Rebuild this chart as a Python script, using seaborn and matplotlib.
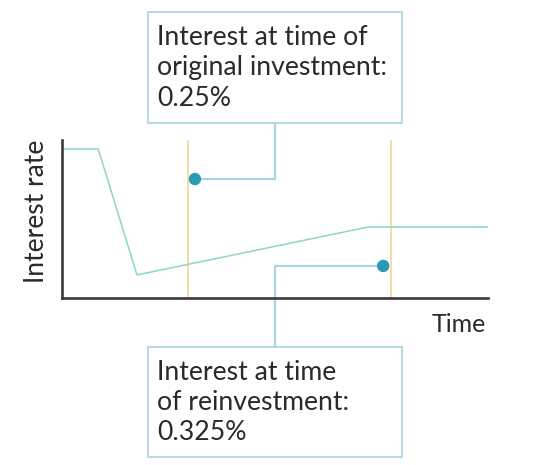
import matplotlib
matplotlib.use("Agg")
import matplotlib.pyplot as plt
import seaborn as sns
import pandas as pd
from matplotlib.patches import Rectangle

# ---- data (schematic units) ----
time_pts = [0, 8.5, 17.6, 71.8, 100]
rate_pts = [94.3, 94.3, 14.6, 44.9, 44.9]
event_times = [29.6, 77.2]            # original investment, reinvestment
dot_times = [31.2, 75.4]
dot_rates = [75.3, 20.3]
labels = ["Interest at time of\noriginal investment:\n0.25%",
          "Interest at time\nof reinvestment:\n0.325%"]
x_label = "Time"
y_label = "Interest rate"

sns.set_style("white")
plt.rcParams["font.family"] = ["Lato", "DejaVu Sans"]

W, H = 545, 465
fig = plt.figure(figsize=(W / 100, H / 100), dpi=100)
L, R, B, T = 62, 488, 298, 140
ax = fig.add_axes([L / W, (H - B) / H, (R - L) / W, (B - T) / H])
ax.set_xlim(0, 100)
ax.set_ylim(0, 100)

def px_to_data(px, py):
    return (px - L) / (R - L) * 100, (B - py) / (B - T) * 100

df = pd.DataFrame({"t": time_pts, "r": rate_pts})
sns.lineplot(data=df, x="t", y="r", ax=ax, color="#8fd5c9", linewidth=1.1, sort=False)

for et in event_times:
    ax.axvline(et, color="#f3d58a", linewidth=1.1, zorder=1)

conn = "#a9d4df"
cx, _ = px_to_data(275, 0)
_, top_box_bottom = px_to_data(0, 123)
_, bot_box_top = px_to_data(0, 347)
ax.plot([dot_times[0], cx, cx], [dot_rates[0], dot_rates[0], top_box_bottom],
        color=conn, linewidth=1.6, clip_on=False, zorder=2)
ax.plot([dot_times[1], cx, cx], [dot_rates[1], dot_rates[1], bot_box_top],
        color=conn, linewidth=1.6, clip_on=False, zorder=2)

sns.scatterplot(x=dot_times, y=dot_rates, ax=ax, color="#2b9ab6", s=80,
                edgecolor="none", zorder=5, clip_on=False)

ax.set_xticks([])
ax.set_yticks([])
ax.set_xlabel("")
ax.set_ylabel("")
for s in ["top", "right"]:
    ax.spines[s].set_visible(False)
for s in ["left", "bottom"]:
    ax.spines[s].set_color("#3a3a3a")
    ax.spines[s].set_linewidth(1.9)

# boxes
def fig_rect(x0, y0, x1, y1):
    return Rectangle((x0 / W, 1 - y1 / H), (x1 - x0) / W, (y1 - y0) / H,
                     transform=fig.transFigure, fill=False,
                     edgecolor=conn, linewidth=1.2)

fig.patches.append(fig_rect(148, 12, 402, 123))
fig.patches.append(fig_rect(148, 347, 402, 457))

# va="baseline" anchors the last line's baseline
fig.text(157 / W, 1 - 105.5 / H, labels[0], ha="left", va="baseline",
         fontsize=19.2, color="#2a2a2a", linespacing=1.26)
fig.text(157 / W, 1 - 440 / H, labels[1], ha="left", va="baseline",
         fontsize=19.2, color="#2a2a2a", linespacing=1.26)

fig.text(486 / W, 1 - 332 / H, x_label, ha="right", va="baseline",
         fontsize=18, color="#2a2a2a")
fig.text(37 / W, 1 - 211 / H, y_label, ha="center", va="center",
         rotation=90, fontsize=19, color="#2a2a2a")

fig.savefig("out.png", dpi=100, facecolor="white")
